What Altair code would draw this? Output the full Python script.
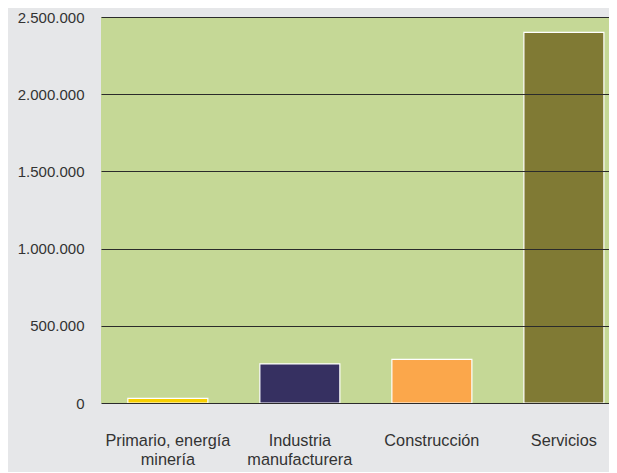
import altair as alt
import pandas as pd

categories = ["Primario, energía|minería", "Industria|manufacturera", "Construcción", "Servicios"]
values = [30000, 253000, 283000, 2401000]
colors = ["#f7cf00", "#363061", "#fba74b", "#807a34"]

df = pd.DataFrame({"sector": categories, "valor": values})

chart = alt.Chart(df).mark_bar(stroke="white", strokeWidth=1.2).encode(
    x=alt.X(
        "sector:N",
        sort=categories,
        scale=alt.Scale(paddingInner=0.394, paddingOuter=0.121, align=0.84),
        axis=alt.Axis(
            title=None, labelAngle=0, domain=False, ticks=False, grid=False,
            labelExpr="split(datum.label, '|')", labelPadding=42,
            labelBaseline="alphabetic", labelLineHeight=19,
            labelFont="Liberation Sans", labelFontSize=16.3, labelColor="#333333",
        ),
    ),
    y=alt.Y(
        "valor:Q",
        scale=alt.Scale(domain=[0, 2500000], nice=False),
        axis=alt.Axis(
            title=None, values=[0, 500000, 1000000, 1500000, 2000000, 2500000],
            format=",d", domain=False, ticks=False, grid=True,
            gridColor="#2b2b2b", gridWidth=1.2, gridOpacity=1,
            labelPadding=17, labelFont="Liberation Sans", labelFontSize=15,
            labelColor="#333333", zindex=1,
        ),
    ),
    color=alt.Color("sector:N", scale=alt.Scale(domain=categories, range=colors), legend=None),
).properties(
    width=508,
    height=386,
    autosize=alt.AutoSizeParams(type="none"),
    padding={"left": 93, "top": 9, "right": 0, "bottom": 69},
    background="#e6e7e9",
).configure(
    locale={"number": {"decimal": ",", "thousands": ".", "grouping": [3], "currency": ["", " €"]}},
    view=alt.ViewConfig(fill="#c5d896", strokeWidth=0),
)

chart.save("out.html", embed_options={"renderer": "svg", "actions": False})
